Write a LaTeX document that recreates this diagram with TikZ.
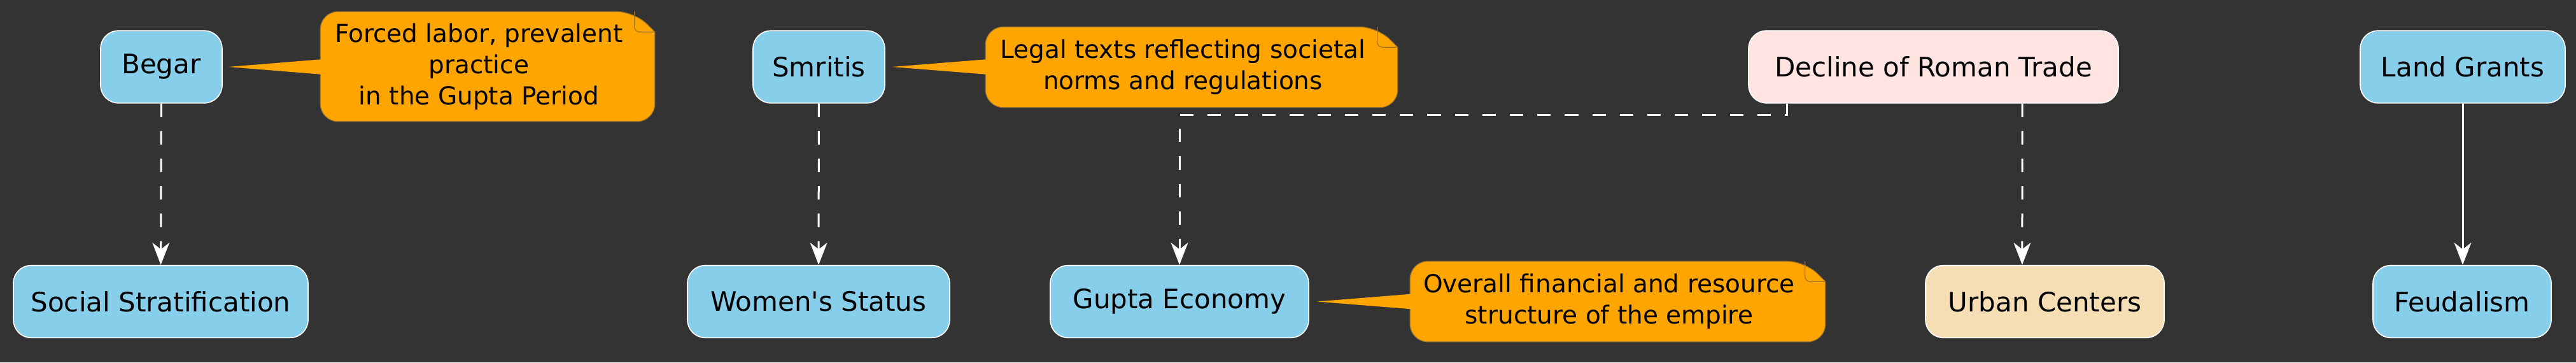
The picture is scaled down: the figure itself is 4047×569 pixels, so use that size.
\documentclass[tikz,border=0pt]{standalone}
\usepackage{fontspec}
\setmainfont{DejaVu Sans}
\usetikzlibrary{arrows.meta}
\definecolor{bgdark}{HTML}{333333}
\definecolor{topicblue}{HTML}{87CEEB}
\definecolor{topicrose}{HTML}{FFE4E1}
\definecolor{topicwheat}{HTML}{F5DEB3}
\definecolor{notefill}{HTML}{FFA500}
\definecolor{noteline}{HTML}{A0742A}
\begin{document}
\begin{tikzpicture}[x=0.25pt, y=-0.25pt,
                every node/.style = {text=black, inner sep=0pt, align=center},
                topic/.style = {draw=white, line width=0.4pt, rounded corners=7pt, minimum height=28.4pt,
                                font=\fontsize{10.5}{12.6}\selectfont},
                notebox/.style = {minimum height=31.25pt},
                notetext/.style = {font=\fontsize{9.75}{12.3}\selectfont, xshift=-3.4pt},
                flow/.style = {draw=white, line width=0.75pt, -{Stealth[length=8.7pt, width=6.7pt, inset=2.6pt]}},
                dep/.style = {flow, dash pattern=on 5.3pt off 5.5pt}
            ]
            \useasboundingbox[fill=bgdark] (0,0) rectangle (4047,569);
            \node[topic, fill=topicblue, minimum width=47.75pt] (begar) at (253.5,105) {Begar};
            \node[topic, fill=topicblue, minimum width=115.75pt] (social) at (252.5,473.5) {Social Stratification};
            \node[topic, fill=topicblue, minimum width=51.75pt] (smritis) at (1286.5,105) {Smritis};
            \node[topic, fill=topicblue, minimum width=103pt] (women) at (1286,473.5) {Women\textquotesingle s Status};
            \node[topic, fill=topicblue, minimum width=101.5pt] (economy) at (1853,473.5) {Gupta Economy};
            \node[topic, fill=topicrose, minimum width=145.25pt] (roman) at (3037.5,105) {Decline of Roman Trade};
            \node[topic, fill=topicwheat, minimum width=93.75pt] (urban) at (3212.5,473.5) {Urban Centers};
            \node[topic, fill=topicblue, minimum width=80.5pt] (grants) at (3869,105) {Land Grants};
            \node[topic, fill=topicblue, minimum width=70pt] (feudal) at (3868,473.5) {Feudalism};

            \node[notebox, minimum width=131pt, minimum height=42.75pt] (begarnote) at (766,104.5) {};
            \node[notebox, minimum width=161.5pt] (smritisnote) at (1872,105.5) {};
            \node[notebox, minimum width=162.75pt] (economynote) at (2541.5,473.5) {};
            \coordinate (begartip) at ([xshift=2.3pt]begar.east);
            \coordinate (smritistip) at ([xshift=2.7pt]smritis.east);
            \coordinate (economytip) at ([xshift=3pt]economy.east);
            \foreach \n/\t in {begarnote/begartip, smritisnote/smritistip, economynote/economytip} {
                \draw[fill=notefill, draw=noteline, line width=0.3pt, rounded corners=7pt]
                    (\n.south west) -- (\n.north west) -- ([xshift=-8pt]\n.north east)
                    [sharp corners] -- ([yshift=-8pt]\n.north east)
                    [rounded corners=7pt] -- (\n.south east) -- cycle;
                \fill[notefill] ([xshift=1pt, yshift=3pt]\n.west |- \t) -- (\t) -- ([xshift=1pt, yshift=-3pt]\n.west |- \t) -- cycle;
                \draw[draw=noteline, line width=0.3pt, rounded corners=2pt]
                    ([xshift=-8pt]\n.north east) |- ([yshift=-8pt]\n.north east);
            }
            \node[notetext] at (begarnote) {Forced labor, prevalent\\practice\\in the Gupta Period};
            \node[notetext] at (smritisnote) {Legal texts reflecting societal\\norms and regulations};
            \node[notetext] at (economynote) {Overall financial and resource\\structure of the empire};

            \draw[dep] (begar) -- (social);
            \draw[dep] (smritis) -- (women);
            \draw[dep] ([xshift=-57.6pt]roman.south) -- ++(0,-4.5pt) -| (economy.north);
            \draw[dep] ([xshift=34.9pt]roman.south) -- ([xshift=-8.9pt]urban.north);
            \draw[flow] (grants.south) -- (grants.south |- feudal.north);
        \end{tikzpicture}
\end{document}
